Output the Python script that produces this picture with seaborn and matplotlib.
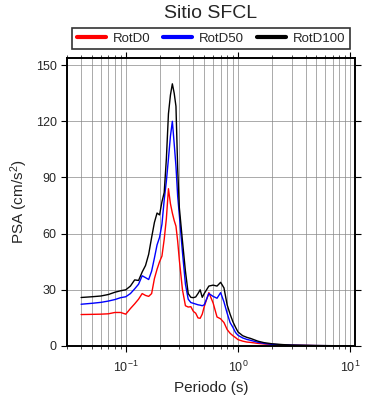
import matplotlib
matplotlib.use('Agg')
import matplotlib.pyplot as plt
import matplotlib.ticker as mticker
import pandas as pd
import seaborn as sns

# periods (s) and spectral accelerations (cm/s^2)
periodo = [0.04, 0.05, 0.06, 0.07, 0.08, 0.09, 0.10, 0.11, 0.12, 0.13,
           0.14, 0.15, 0.16, 0.17, 0.18, 0.19, 0.20, 0.21, 0.22, 0.23,
           0.24, 0.25, 0.26, 0.27, 0.28, 0.29, 0.30, 0.32, 0.34, 0.36,
           0.38, 0.40, 0.42, 0.44, 0.46, 0.48, 0.50, 0.55, 0.60, 0.65,
           0.70, 0.75, 0.80, 0.85, 0.90, 0.95, 1.0, 1.1, 1.2, 1.3,
           1.5, 1.7, 2.0, 2.5, 3.0, 4.0, 5.0, 7.5, 10.0]

rotd0 = [16.8, 16.9, 17.0, 17.2, 17.9, 17.9, 17.0, 20.0, 22.5, 25.0,
         28.0, 27.0, 26.5, 28.0, 36.0, 41.0, 45.0, 48.0, 57.0, 68.0,
         84.0, 76.0, 71.0, 67.0, 64.0, 56.0, 46.0, 30.0, 21.5, 20.8,
         21.0, 18.5, 17.5, 15.0, 14.8, 17.0, 21.0, 28.5, 23.0, 15.5,
         14.5, 12.5, 8.8, 6.8, 5.5, 4.5, 3.4, 2.6, 2.1, 1.9,
         1.4, 1.1, 0.8, 0.55, 0.4, 0.3, 0.2, 0.12, 0.08]

rotd50 = [22.3, 22.8, 23.3, 24.0, 24.8, 25.8, 26.3, 28.0, 30.5, 33.0,
          37.5, 36.5, 35.5, 40.0, 47.0, 54.0, 58.0, 65.0, 78.0, 88.0,
          100.0, 112.0, 120.0, 108.0, 96.0, 80.0, 70.0, 50.0, 33.0, 25.0,
          23.2, 22.8, 22.4, 22.0, 21.8, 21.5, 22.0, 28.0, 26.5, 25.5,
          28.5, 23.5, 17.5, 12.5, 10.0, 7.2, 5.7, 4.3, 3.5, 3.0,
          2.0, 1.4, 0.9, 0.6, 0.45, 0.3, 0.22, 0.13, 0.09]

rotd100 = [25.9, 26.3, 26.7, 27.5, 28.7, 29.5, 30.0, 32.0, 35.3, 35.0,
           39.5, 43.0, 49.0, 58.0, 66.0, 71.0, 70.0, 77.0, 82.0, 100.0,
           124.0, 134.0, 140.0, 135.0, 128.0, 95.0, 74.0, 56.0, 40.0, 28.0,
           26.0, 25.8, 26.2, 28.0, 30.0, 26.0, 28.0, 32.0, 32.5, 32.0,
           34.0, 31.0, 22.0, 17.0, 13.0, 10.0, 7.5, 5.5, 4.6, 4.0,
           2.6, 1.8, 1.2, 0.75, 0.5, 0.35, 0.25, 0.15, 0.1]

series = ['RotD0', 'RotD50', 'RotD100']
colores = ['red', 'blue', 'black']
y_ticks = [0, 30, 60, 90, 120, 150]

df = pd.DataFrame({'Periodo': periodo, 'RotD0': rotd0,
                   'RotD50': rotd50, 'RotD100': rotd100})
df_long = df.melt(id_vars='Periodo', value_vars=series,
                  var_name='Componente', value_name='PSA')

sns.set_style('ticks')
plt.rcParams['font.family'] = ['Liberation Sans', 'DejaVu Sans']
plt.rcParams['mathtext.fontset'] = 'custom'
plt.rcParams['mathtext.rm'] = 'Liberation Sans'
plt.rcParams['mathtext.it'] = 'Liberation Sans'
plt.rcParams['mathtext.default'] = 'regular'

fig = plt.figure(figsize=(3.9, 4.0), dpi=100)
ax = fig.add_axes([0.172, 0.135, 0.738, 0.721])

sns.lineplot(data=df_long, x='Periodo', y='PSA', hue='Componente',
             hue_order=series, palette=colores, linewidth=1.0,
             ax=ax, legend=False)

ax.set_xscale('log')
ax.set_xlim(0.03, 11)
ax.set_ylim(0, 154)
ax.set_yticks(y_ticks)
ax.xaxis.set_major_locator(mticker.LogLocator(base=10, numticks=10))
ax.xaxis.set_minor_locator(mticker.LogLocator(base=10, subs=range(2, 10), numticks=20))
ax.xaxis.set_minor_formatter(mticker.NullFormatter())

ax.grid(True, which='both', axis='x', color='#888888', linewidth=0.5)
ax.grid(True, which='major', axis='y', color='#888888', linewidth=0.5)
ax.set_axisbelow(True)

ax.tick_params(axis='both', which='major', direction='out', length=4,
               width=0.8, labelsize=9, top=True, right=True, color='black')
ax.tick_params(axis='x', which='minor', direction='out', length=2,
               width=0.6, top=True, bottom=True)
ax.tick_params(axis='x', which='major', pad=6)
for s in ax.spines.values():
    s.set_linewidth(1.4)
    s.set_color('black')

ax.set_xlabel('Periodo (s)', fontsize=11)
ax.set_ylabel('PSA (cm/s$^2$)', fontsize=11)
fig.text(0.541, 0.967, 'Sitio SFCL', ha='center', va='center', fontsize=14)

handles = [plt.Line2D([], [], color=c, linewidth=3) for c in colores]
leg = fig.legend(handles, series, loc='center', bbox_to_anchor=(0.541, 0.904),
                 ncol=3, fontsize=9.5, frameon=True, fancybox=False,
                 handlelength=2.2, columnspacing=1.0, handletextpad=0.5,
                 borderpad=0.35)
leg.get_frame().set_edgecolor('black')
leg.get_frame().set_linewidth(1.2)

fig.savefig('out.png', dpi=100)
